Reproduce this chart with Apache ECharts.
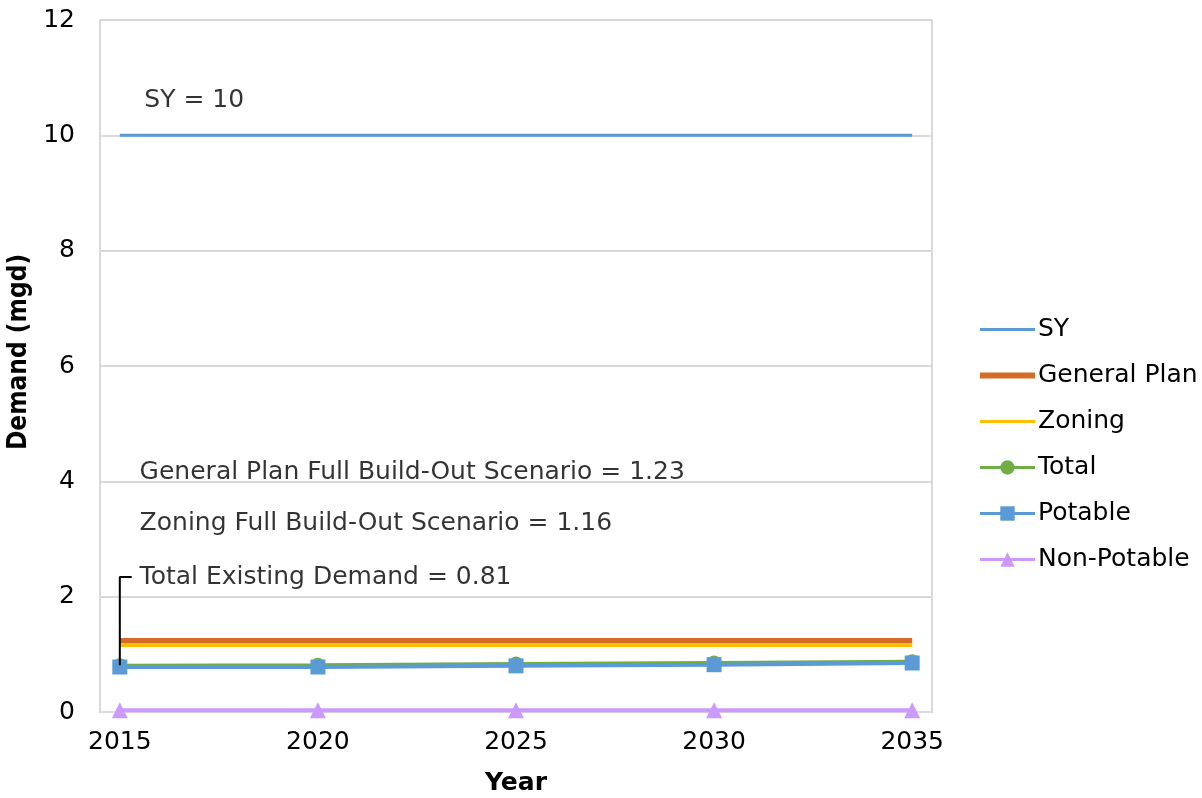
<!DOCTYPE html>
<html><head><meta charset="utf-8">
<script src="https://cdn.jsdelivr.net/npm/echarts@6/dist/echarts.min.js"></script>
<style>html,body{margin:0;padding:0;background:#fff}#c{width:1202px;height:798px}</style>
</head><body><div id="c"></div>
<script>
const years = [2015, 2020, 2025, 2030, 2035];
const yTicks = [0, 2, 4, 6, 8, 10, 12];
const sy = [10, 10, 10, 10, 10];
const generalPlan = [1.23, 1.23, 1.23, 1.23, 1.23];
const zoning = [1.16, 1.16, 1.16, 1.16, 1.16];
const total = [0.81, 0.82, 0.84, 0.86, 0.88];
const potable = [0.78, 0.78, 0.80, 0.82, 0.85];
const nonPotable = [0.03, 0.03, 0.03, 0.03, 0.03];
const annotations = [
  'SY = 10',
  'General Plan Full Build-Out Scenario = 1.23',
  'Zoning Full Build-Out Scenario = 1.16',
  'Total Existing Demand = 0.81'
];

const pair = arr => years.map((y, i) => [y, arr[i]]);
const FONT = 'DejaVu Sans';
const chart = echarts.init(document.getElementById('c'));

function lineSeries(name, data, color, width, symbol, size) {
  return {
    name, type: 'line', data: pair(data),
    lineStyle: { color, width },
    itemStyle: { color },
    symbol: symbol || 'none', symbolSize: size || 0,
    showSymbol: !!symbol, animation: false
  };
}

chart.setOption({
  animation: false,
  textStyle: { fontFamily: FONT },
  grid: { left: 100, right: 270, top: 20, bottom: 86, show: true, borderColor: '#D9D9D9', borderWidth: 2, outerBoundsMode: 'none', containLabel: false },
  xAxis: {
    type: 'value', min: 2014.5, max: 2035.5,
    name: 'Year', nameLocation: 'middle', nameGap: 59,
    nameTextStyle: { fontFamily: FONT, fontWeight: 'bold', fontSize: 25, color: '#000' },
    axisLine: { show: false }, axisTick: { show: false }, splitLine: { show: false },
    axisLabel: { customValues: years, fontSize: 25, color: '#000', margin: 18, fontFamily: FONT,
      formatter: v => String(v) }
  },
  yAxis: {
    type: 'value', min: 0, max: 12, interval: 2,
    name: 'Demand (mgd)', nameLocation: 'middle', nameGap: 65,
    nameTextStyle: { fontFamily: 'DejaVu Sans Condensed', fontWeight: 'bold', fontSize: 26, color: '#000', padding: [0, 0, 0, 28] },
    axisLine: { show: false }, axisTick: { show: false },
    splitLine: { lineStyle: { color: '#D9D9D9', width: 2 } },
    axisLabel: { fontSize: 25, color: '#000', margin: 25, fontFamily: FONT,
      formatter: v => yTicks.includes(v) ? String(v) : '' }
  },
  legend: {
    orient: 'vertical', left: 972, top: 312,
    itemWidth: 55, itemHeight: 18, itemGap: 21,
    textStyle: { fontSize: 25, color: '#000', fontFamily: FONT, padding: [0, 0, 0, -2] },
    data: [
      { name: 'SY', itemStyle: { opacity: 0 }, lineStyle: { width: 3 } },
      { name: 'General Plan', itemStyle: { opacity: 0 }, lineStyle: { width: 6 } },
      { name: 'Zoning', itemStyle: { opacity: 0 }, lineStyle: { width: 3 } },
      { name: 'Total', lineStyle: { width: 3 } },
      { name: 'Potable', lineStyle: { width: 3 } },
      { name: 'Non-Potable', lineStyle: { width: 3 } }
    ]
  },
  series: [
    lineSeries('SY', sy, '#5B9BD5', 3),
    lineSeries('General Plan', generalPlan, '#D46B27', 6),
    lineSeries('Zoning', zoning, '#FFC000', 4),
    lineSeries('Total', total, '#70AD47', 3, 'circle', 14),
    lineSeries('Potable', potable, '#5B9BD5', 4, 'rect', 15),
    lineSeries('Non-Potable', nonPotable, '#CC99FF', 4, 'triangle', 16),
    {
      name: 'leader', type: 'line', silent: true, symbol: 'none',
      data: [[years[0], total[0]], [years[0], 2.34], [2015.3, 2.34]],
      lineStyle: { color: '#000', width: 2 }, z: 5
    },
    {
      name: 'notes', type: 'scatter', silent: true, symbolSize: 0,
      data: [[2015.62, 10.6], [2015.5, 4.16], [2015.5, 3.27], [2015.5, 2.34]],
      label: {
        show: true, position: 'right', distance: 0,
        fontSize: 25, color: '#000', fontFamily: FONT,
        formatter: p => annotations[p.dataIndex]
      }
    }
  ]
});
</script></body></html>
